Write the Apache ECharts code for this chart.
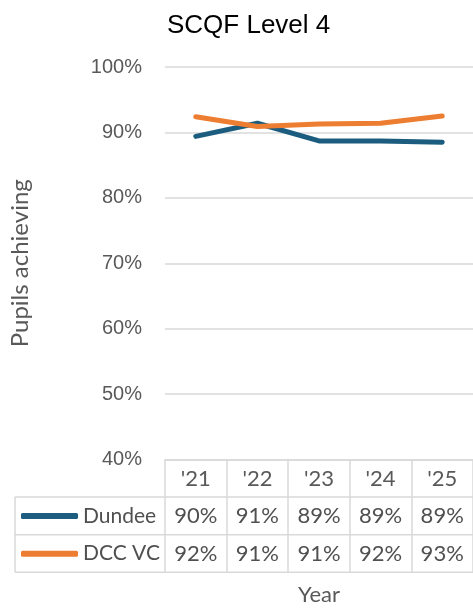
<!DOCTYPE html>
<html>
<head>
<meta charset="utf-8">
<script src="https://cdn.jsdelivr.net/npm/echarts@6/dist/echarts.min.js"></script>
<style>html,body{margin:0;padding:0;background:#fff}#c{width:473px;height:608px}</style>
</head>
<body>
<div id="c"></div>
<script>
var years = ["'21", "'22", "'23", "'24", "'25"];
var dundee = [89.4, 91.4, 88.7, 88.7, 88.5];
var dccvc = [92.4, 90.9, 91.3, 91.4, 92.5];
var dundeeLabels = ["90%", "91%", "89%", "89%", "89%"];
var dccvcLabels = ["92%", "91%", "91%", "92%", "93%"];
var yTicks = { min: 40, max: 100, interval: 10 };

var GL = 165, GT = 67, GB = 459.5, ROW = 37.6, TL = 15, W = 473;
var gridCol = '#d9d9d9';
var txt = '#505050';
var axisTxt = '#595959';
var tableFont = 'Lato';

var chart = echarts.init(document.getElementById('c'));
var graphics = [];
[1, 2, 3].forEach(function (i) {
  graphics.push({ type: 'line', silent: true, shape: { x1: TL, y1: GB + ROW * i, x2: W, y2: GB + ROW * i }, style: { stroke: gridCol, lineWidth: 1.5 } });
});
graphics.push({ type: 'line', silent: true, shape: { x1: TL, y1: GB + ROW, x2: TL, y2: GB + ROW * 3 }, style: { stroke: gridCol, lineWidth: 1.5 } });

function rowAxis(labels, k) {
  return {
    type: 'category', data: years, position: 'bottom', offset: ROW * k,
    axisLine: { show: false }, axisTick: { show: false },
    axisLabel: { margin: 7, color: txt, fontSize: 22, lineHeight: 24, fontFamily: tableFont,
      formatter: function (v, i) { return labels[i]; } }
  };
}

chart.setOption({
  animation: false,
  title: { text: 'SCQF Level 4', left: 162, top: 8,
    textStyle: { fontFamily: 'Liberation Sans', fontSize: 26, fontWeight: 'normal', color: '#000' } },
  grid: { left: GL, right: 0, top: GT, bottom: 608 - GB, outerBoundsMode: 'none', containLabel: false },
  legend: {
    orient: 'vertical', left: TL + 6, top: GB + ROW + 7, itemGap: ROW - 24, padding: 0,
    itemWidth: 57, itemHeight: 6, icon: 'roundRect',
    textStyle: { fontFamily: tableFont, fontSize: 21, color: txt, lineHeight: 24 },
    data: ['Dundee', 'DCC VC']
  },
  xAxis: [
    { type: 'category', data: years, position: 'bottom',
      name: 'Year', nameLocation: 'middle', nameGap: 124,
      nameTextStyle: { fontFamily: tableFont, fontSize: 22, color: axisTxt },
      axisLine: { show: true, lineStyle: { color: gridCol, width: 1.5 } },
      axisTick: { show: true, length: ROW * 3, lineStyle: { color: gridCol, width: 1.5 } },
      axisLabel: { margin: 7, color: axisTxt, fontSize: 22, lineHeight: 24, fontFamily: tableFont } },
    rowAxis(dundeeLabels, 1),
    rowAxis(dccvcLabels, 2)
  ],
  yAxis: {
    type: 'value', min: yTicks.min, max: yTicks.max, interval: yTicks.interval,
    name: 'Pupils achieving', nameLocation: 'middle', nameGap: 133,
    nameTextStyle: { fontFamily: tableFont, fontSize: 24, color: axisTxt },
    axisLine: { show: false }, axisTick: { show: false },
    axisLabel: { formatter: '{value}%', margin: 23, color: axisTxt, fontSize: 20, fontFamily: 'Liberation Sans' },
    splitLine: { lineStyle: { color: gridCol, width: 1.5 } }
  },
  series: [
    { name: 'Dundee', type: 'line', data: dundee, showSymbol: false, color: '#1c5d7f',
      lineStyle: { width: 5, cap: 'round', join: 'round' } },
    { name: 'DCC VC', type: 'line', data: dccvc, showSymbol: false, color: '#ed7d31',
      lineStyle: { width: 5, cap: 'round', join: 'round' } }
  ],
  graphic: graphics
});
</script>
</body>
</html>
